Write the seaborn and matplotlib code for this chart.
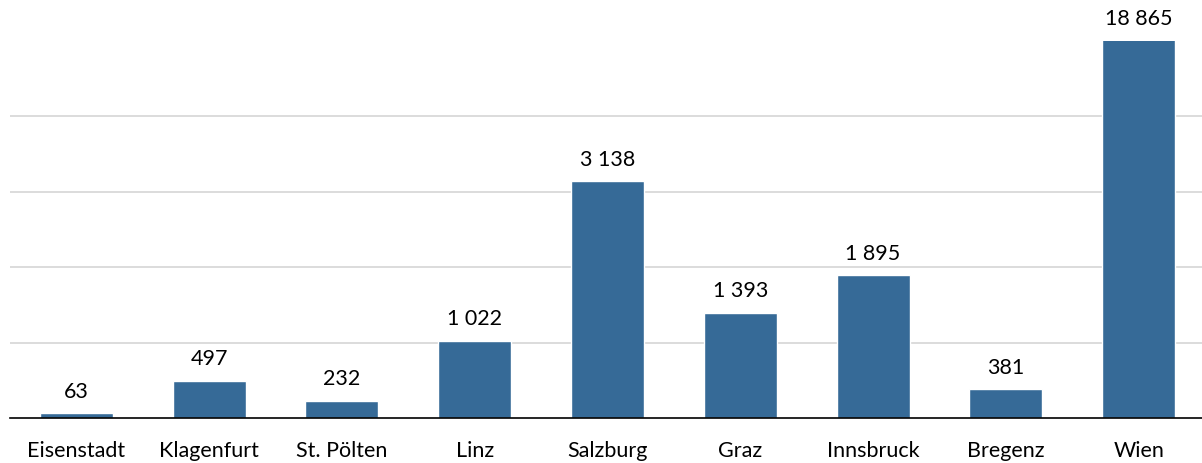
import matplotlib
matplotlib.use("Agg")
import matplotlib.pyplot as plt
import pandas as pd
import seaborn as sns

# Daten
staedte = ["Eisenstadt", "Klagenfurt", "St. Pölten", "Linz", "Salzburg",
           "Graz", "Innsbruck", "Bregenz", "Wien"]
werte = [63, 497, 232, 1022, 3138, 1393, 1895, 381, 18865]
y_max = 5000
y_gitter = [1000, 2000, 3000, 4000]

BAR_COLOR = "#366a97"

sns.set_theme(style="white")
plt.rcParams["font.family"] = ["Lato", "DejaVu Sans"]

df = pd.DataFrame({"Stadt": staedte, "Wert": werte})

fig = plt.figure(figsize=(12.02, 4.64), dpi=100)
ax = fig.add_axes([10 / 1202, 1 - 419 / 464, 1195 / 1202, 377 / 464])

sns.barplot(data=df, x="Stadt", y="Wert", color=BAR_COLOR, saturation=1,
            width=0.55, ax=ax)

ax.set_ylim(0, y_max)
ax.set_yticks(y_gitter)
ax.yaxis.grid(True, color="#d9d9d9", linewidth=1.3)
ax.set_axisbelow(True)
ax.tick_params(axis="y", left=False, labelleft=False)
ax.tick_params(axis="x", bottom=False, labelsize=15.5, pad=10, colors="black")
ax.set_xlabel("")
ax.set_ylabel("")

for s in ["top", "right", "left"]:
    ax.spines[s].set_visible(False)
ax.spines["bottom"].set_color("black")
ax.spines["bottom"].set_linewidth(1.2)

for i, v in enumerate(werte):
    label = f"{v:,}".replace(",", " ")
    ax.annotate(label, (i, min(v, y_max)), xytext=(0, 9), textcoords="offset points",
                ha="center", va="bottom", fontsize=15.5, color="black",
                annotation_clip=False)

fig.savefig("out.png", dpi=100)
